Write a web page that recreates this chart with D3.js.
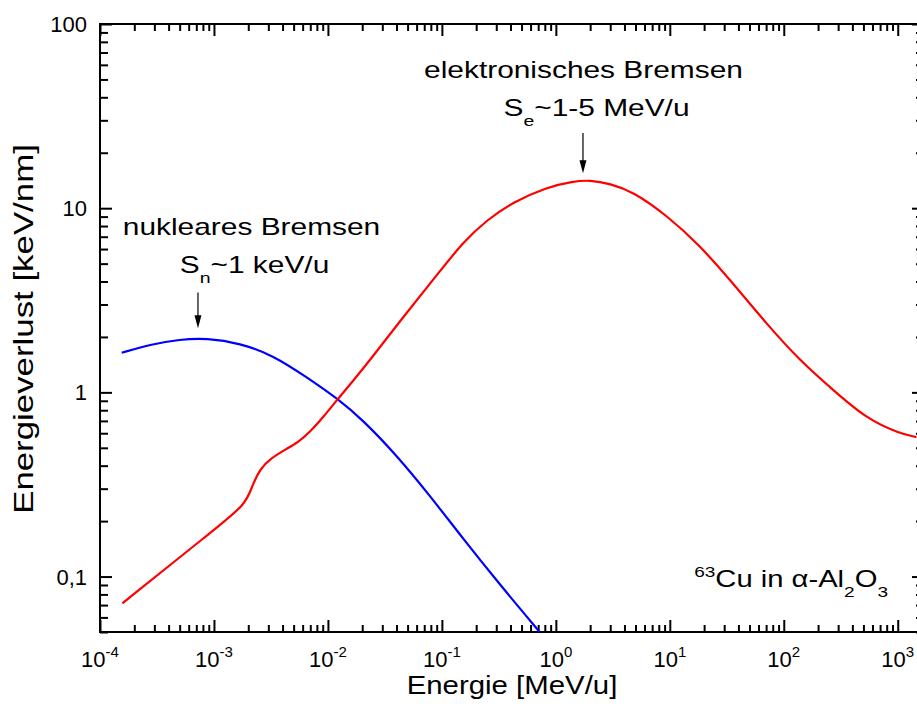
<!DOCTYPE html>
<html>
<head>
<meta charset="utf-8">
<script src="https://cdn.jsdelivr.net/npm/d3@7"></script>
<style>
  body { margin: 0; background: #fff; }
  svg { display: block; font-family: "Liberation Sans", Arial, sans-serif; }
</style>
</head>
<body>
<script>
// nuclear stopping (blue), energy in MeV/u and stopping in keV/nm
var nuclearE = [1.55e-4, 2.75e-4, 5.04e-4, 8.63e-4, 1.69e-3, 3.31e-3, 6.50e-3, 0.0123, 0.0204, 0.0401, 0.0785, 0.154, 0.302, 0.725];
var nuclearS = [1.64, 1.82, 1.94, 1.97, 1.85, 1.59, 1.21, 0.920, 0.705, 0.455, 0.275, 0.160, 0.095, 0.0498];

// electronic stopping (red)
var electronicE = [1.57e-4, 9.86e-4, 1.90e-3, 2.14e-3, 2.54e-3, 3.10e-3, 4.34e-3, 5.49e-3, 6.95e-3, 9.1e-3, 0.0123, 0.0167, 0.0233, 0.0458, 0.090, 0.154, 0.247, 0.423, 0.828, 1.42, 1.99, 2.98, 4.77, 9.35, 18.3, 35.9, 70.5, 138, 271, 531, 1042, 1459];
var electronicS = [0.0716, 0.178, 0.246, 0.306, 0.385, 0.436, 0.494, 0.537, 0.609, 0.734, 0.925, 1.16, 1.49, 2.57, 4.32, 6.56, 8.61, 10.8, 13.0, 14.0, 14.2, 13.6, 12.3, 9.16, 6.30, 3.90, 2.36, 1.49, 1.03, 0.719, 0.597, 0.572];

var xTickExps = [-4, -3, -2, -1, 0, 1, 2, 3];
var yTicks = [0.1, 1, 10, 100];
var yTickLabels = ["0,1", "1", "10", "100"];

var width = 917, height = 720;
var pl = 100, pr = 924, pt = 24, pb = 632;

var svg = d3.select("body").append("svg")
  .attr("width", width)
  .attr("height", height);

var x = d3.scaleLog().domain([1e-4, 1700]).range([pl, pr]);
var y = d3.scaleLog().domain([0.05, 100]).range([pb, pt]);

var xMajor = xTickExps.map(function (e) { return Math.pow(10, e); });
var xMinor = [];
xTickExps.forEach(function (e) {
  for (var k = 2; k < 10; k++) {
    var v = k * Math.pow(10, e);
    if (v <= x.domain()[1]) xMinor.push(v);
  }
});
var yMinor = [];
[-2, -1, 0, 1].forEach(function (e) {
  for (var k = 2; k < 10; k++) {
    var v = k * Math.pow(10, e);
    if (v >= y.domain()[0] && v <= 100) yMinor.push(v);
  }
});

// ticks, all pointing into the plot
function ticks(axis, vals, size, tr) {
  var g = svg.append("g")
    .attr("transform", tr)
    .call(axis.tickValues(vals).tickSize(size).tickFormat(""));
  g.select(".domain").remove();
  g.selectAll("line").attr("stroke", "#000").attr("stroke-width", 2);
}
ticks(d3.axisTop(x), xMajor, 12, "translate(0," + pb + ")");
ticks(d3.axisTop(x), xMinor, 7, "translate(0," + pb + ")");
ticks(d3.axisBottom(x), xMajor, 12, "translate(0," + pt + ")");
ticks(d3.axisBottom(x), xMinor, 7, "translate(0," + pt + ")");
ticks(d3.axisRight(y), yTicks, 12, "translate(" + pl + ",0)");
ticks(d3.axisRight(y), yMinor, 8, "translate(" + pl + ",0)");
ticks(d3.axisLeft(y), yTicks, 12, "translate(" + pr + ",0)");
ticks(d3.axisLeft(y), yMinor, 8, "translate(" + pr + ",0)");

svg.append("rect")
  .attr("x", pl).attr("y", pt)
  .attr("width", pr - pl).attr("height", pb - pt)
  .attr("fill", "none").attr("stroke", "#000").attr("stroke-width", 2);

// curves
svg.append("clipPath").attr("id", "clip")
  .append("rect").attr("x", pl).attr("y", pt)
  .attr("width", pr - pl).attr("height", pb - pt);

var line = d3.line()
  .x(function (d) { return x(d[0]); })
  .y(function (d) { return y(d[1]); })
  .curve(d3.curveBasis);

svg.append("path")
  .datum(d3.zip(nuclearE, nuclearS))
  .attr("clip-path", "url(#clip)")
  .attr("d", line)
  .attr("fill", "none").attr("stroke", "#0000ff").attr("stroke-width", 2.2);

svg.append("path")
  .datum(d3.zip(electronicE, electronicS))
  .attr("clip-path", "url(#clip)")
  .attr("d", line)
  .attr("fill", "none").attr("stroke", "#ff0000").attr("stroke-width", 2.2);

// tick labels
var xl = svg.append("g").attr("font-size", 22).attr("text-anchor", "middle");
xTickExps.forEach(function (e) {
  var t = xl.append("text").attr("x", x(Math.pow(10, e))).attr("y", 667);
  t.append("tspan").text("10");
  t.append("tspan").attr("font-size", 15).attr("dy", -10).text(e);
});

svg.append("g").attr("font-size", 22).attr("text-anchor", "end")
  .selectAll("text").data(yTicks).enter().append("text")
  .attr("x", 87)
  .attr("y", function (d) { return y(d) + 8; })
  .text(function (d, i) { return yTickLabels[i]; });

// the bigger texts are a bit wide in the original, so stretch them
function wide(px, py, size, sx, anchor, rot) {
  return svg.append("text")
    .attr("transform", "translate(" + px + "," + py + ")" + (rot ? " rotate(-90)" : "") + " scale(" + sx + ",1)")
    .attr("font-size", size)
    .attr("text-anchor", anchor);
}

wide((pl + pr) / 2, 694, 26, 1.13, "middle").text("Energie [MeV/u]");
wide(33, 329, 27, 1.29, "middle", true).text("Energieverlust [keV/nm]");

// annotations
function arrow(e, s0, s1) {
  var ax = x(e), y0 = y(s0), y1 = y(s1);
  svg.append("line")
    .attr("x1", ax).attr("x2", ax).attr("y1", y0).attr("y2", y1 - 10)
    .attr("stroke", "#000").attr("stroke-width", 1.2);
  svg.append("path")
    .attr("d", "M" + (ax - 3.5) + "," + (y1 - 13) + "L" + (ax + 3.5) + "," + (y1 - 13) + "L" + ax + "," + y1 + "Z")
    .attr("fill", "#000");
}

wide(583.5, 78, 23, 1.3, "middle").text("elektronisches Bremsen");
var se = wide(596.5, 116, 23, 1.3, "middle");
se.append("tspan").text("S");
se.append("tspan").attr("font-size", 15).attr("dy", 10).text("e");
se.append("tspan").attr("dy", -10).text("~1-5 MeV/u");
arrow(1.73, 25.6, 15.5);

wide(251.5, 235, 23, 1.3, "middle").text("nukleares Bremsen");
var sn = wide(254.5, 273, 23, 1.3, "middle");
sn.append("tspan").text("S");
sn.append("tspan").attr("font-size", 15).attr("dy", 10).text("n");
sn.append("tspan").attr("dy", -10).text("~1 keV/u");
arrow(7.24e-4, 3.49, 2.23);

var cu = wide(888, 587, 23, 1.27, "end");
cu.append("tspan").attr("font-size", 15).attr("dy", -10).text("63");
cu.append("tspan").attr("dy", 10).text("Cu in α-Al");
cu.append("tspan").attr("font-size", 15).attr("dy", 10).text("2");
cu.append("tspan").attr("dy", -10).text("O");
cu.append("tspan").attr("font-size", 15).attr("dy", 10).text("3");
</script>
</body>
</html>
